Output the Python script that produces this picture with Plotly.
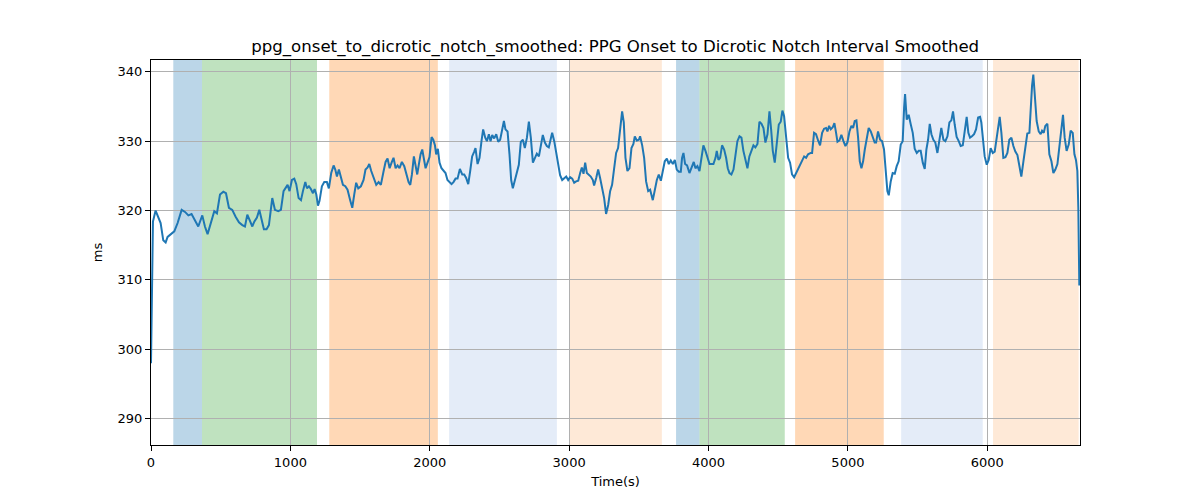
import plotly.graph_objects as go

time_s = [0, 14, 33, 52, 69, 88, 105, 119, 143, 167, 191, 220, 244, 268, 291, 315, 339, 368, 387, 406,
          430, 454, 473, 495, 519, 538, 559, 583, 607, 631, 655, 674, 691, 710, 727, 741, 760, 777, 794, 810,
          829, 846, 870, 889, 913,
          932, 951, 963, 980, 994, 1011, 1028, 1042, 1059, 1076, 1090, 1107, 1119, 1133, 1147, 1162, 1174, 1186,
          1198, 1209, 1226, 1243, 1262, 1276, 1293, 1310, 1322, 1334, 1348, 1362, 1377, 1394, 1410, 1429, 1444,
          1458, 1472, 1487, 1506, 1525, 1539, 1554, 1566, 1580, 1597, 1616, 1633, 1649, 1669, 1683, 1697, 1712,
          1726, 1740, 1755, 1769, 1783, 1800, 1817, 1831, 1848, 1860, 1872,
          1886, 1898, 1910, 1922, 1934, 1946, 1958, 1970, 1984, 1998, 2013, 2025, 2037, 2046, 2058, 2070, 2084,
          2099, 2113, 2127, 2142, 2156, 2170, 2185, 2199, 2216, 2233, 2247, 2261, 2276, 2290, 2304, 2319, 2328,
          2343, 2357, 2371, 2383, 2398, 2410, 2424, 2436, 2448, 2462, 2477, 2491, 2505, 2520, 2532, 2543, 2558,
          2572, 2584, 2596, 2610, 2625, 2639, 2653, 2668, 2682, 2697, 2711, 2725, 2740, 2754, 2768, 2783, 2797,
          2811, 2826, 2840,
          2854, 2864, 2878, 2893, 2907, 2921, 2935, 2950, 2964, 2979, 2993, 3007, 3022, 3036, 3050, 3065, 3079,
          3091, 3103, 3115, 3127, 3141, 3155, 3170, 3179, 3194, 3208, 3222, 3237, 3251, 3265, 3280, 3294, 3308,
          3323, 3337, 3351, 3366, 3380, 3392, 3404, 3418, 3433, 3447, 3461, 3471, 3485, 3500, 3509, 3524, 3538,
          3552, 3567, 3581, 3600, 3615, 3629, 3643, 3658, 3672, 3686, 3701, 3715, 3729, 3744, 3758, 3772, 3787,
          3801, 3810, 3820, 3832, 3846, 3863, 3880, 3894, 3906, 3920, 3935, 3949, 3963, 3978, 3992, 4007, 4021,
          4035, 4050, 4059, 4071, 4083, 4097, 4112, 4126, 4138, 4150, 4164, 4179, 4193, 4207, 4222, 4236, 4250,
          4265, 4279, 4293, 4308, 4322, 4336, 4351, 4365, 4380, 4394, 4408, 4423, 4437, 4449, 4461, 4475, 4490,
          4504, 4518, 4530, 4542, 4556, 4571, 4585, 4599, 4614, 4628, 4643, 4657, 4671, 4686, 4700, 4714, 4733,
          4743, 4757, 4771, 4786, 4800, 4815, 4829, 4843, 4853, 4865, 4877, 4891, 4903, 4915, 4925, 4939, 4953,
          4968, 4982, 4996, 5011, 5025, 5037, 5049, 5061, 5073, 5085, 5097, 5109, 5121, 5135, 5149, 5164, 5178,
          5192, 5202, 5216, 5231, 5245, 5259, 5271, 5283, 5293, 5307, 5321, 5336, 5350, 5364, 5379, 5393, 5403,
          5410, 5422, 5436, 5451, 5465, 5479, 5494, 5508, 5522, 5537, 5551, 5563, 5575, 5587, 5599, 5613, 5627,
          5642, 5656, 5670, 5685,
          5699, 5714, 5728, 5742, 5754, 5766, 5780, 5795, 5809, 5824, 5838, 5852, 5864, 5876, 5890, 5905, 5919,
          5934, 5948, 5957, 5967, 5981, 5996, 6010, 6024, 6039, 6053, 6067, 6079, 6089, 6101, 6115, 6130, 6144,
          6158, 6173, 6187, 6201, 6216, 6230, 6244, 6259, 6273, 6287, 6302, 6311, 6321, 6330, 6340, 6354, 6369,
          6383, 6393, 6405, 6416, 6431, 6445, 6460, 6474, 6488, 6503, 6517, 6531, 6543, 6555, 6569, 6584, 6598,
          6613, 6625, 6636, 6646, 6653, 6660]

interval_ms = [298.0, 318.4, 320.0, 319.1, 318.2, 315.7, 315.4, 316.2, 316.6, 317.0, 318.2, 320.1, 319.8, 319.3,
               319.5, 318.6, 317.7, 319.3, 317.7, 316.6, 318.4, 319.9, 319.6, 322.3, 322.7, 322.5, 320.4, 320.1,
               319.1, 318.3, 317.9, 317.7, 319.4, 318.4, 317.7, 318.4, 319.0, 320.1, 318.6, 317.3, 317.3, 317.9,
               321.8, 320.1, 319.9,
               320.1, 322.8, 323.2, 323.7, 322.8, 324.4, 324.6, 323.8, 321.8, 321.5, 322.8, 324.1, 323.2, 323.5,
               323.1, 322.5, 323.1, 322.3, 320.7, 321.4, 323.5, 324.1, 324.1, 323.2, 325.4, 326.5, 325.9, 324.9,
               325.9, 324.9, 323.7, 323.5, 323.0, 321.5, 320.4, 322.3, 324.0, 323.2, 323.5, 324.4, 325.9, 326.2,
               326.7, 325.7, 324.7, 323.7, 324.1, 323.7, 325.7, 327.0, 327.5, 326.1, 326.9, 327.6, 326.1, 326.5,
               326.1, 327.0, 326.4, 325.4, 324.1, 323.7, 325.2,
               327.8, 326.6, 325.2, 326.7, 328.1, 328.8, 327.3, 326.1, 326.9, 327.7, 330.6, 330.2, 329.4, 328.1,
               328.9, 326.9, 326.1, 325.7, 325.4, 324.4, 324.1, 323.8, 324.1, 324.6, 324.6, 326.0, 325.2, 325.2,
               324.7, 323.8, 325.7, 327.8, 328.5, 329.0, 326.7, 327.6, 330.0, 331.7, 330.5, 330.0, 331.0, 330.0,
               330.9, 330.4, 331.0, 329.9, 330.2, 331.7, 332.9, 331.7, 331.4, 328.1, 324.4, 323.2, 324.4, 325.7,
               326.6, 329.9, 330.2, 329.0, 330.5, 332.8, 330.5, 326.9, 327.6, 328.2, 327.8, 329.5, 330.9, 329.8,
               329.3,
               329.1, 330.2, 331.2, 330.0, 328.3, 326.4, 325.1, 324.4, 324.6, 324.9, 324.4, 324.8, 324.6, 324.0,
               324.2, 324.3, 325.4, 326.2, 325.3, 326.9, 325.4, 325.2, 324.9, 324.4, 323.6, 324.7, 325.9, 324.7,
               323.2, 321.8, 319.5, 320.8, 322.8, 323.7, 326.1, 328.3, 329.0, 331.4, 334.3, 332.7, 327.6, 325.7,
               326.1, 329.0, 329.6, 330.7, 330.1, 330.2, 330.7, 329.4, 327.6, 324.2, 322.8, 323.0, 321.5, 323.0,
               324.4, 325.2, 324.3, 325.7, 327.1, 327.5, 326.7, 327.2, 326.7, 327.3, 325.9, 325.6,
               325.6, 327.6, 328.3, 326.7, 326.5, 325.4, 326.2, 327.0, 326.1, 326.4, 325.7, 327.8, 329.4, 328.6,
               327.8, 326.7, 326.7, 326.7, 327.6, 328.6, 327.3, 327.6, 329.4, 328.8, 327.6, 326.1, 325.4, 325.2,
               325.9, 328.3, 330.0, 330.7, 330.5, 328.6, 327.1, 326.1, 327.8, 328.6, 329.4, 329.1, 329.6, 332.8,
               332.5, 331.9, 329.8, 331.0, 334.3, 331.7, 328.6, 326.9, 330.0, 332.4, 332.8, 334.4, 333.6, 330.2,
               327.6, 326.9, 325.2, 324.8, 325.4, 326.1, 326.7, 327.1, 327.8, 327.6, 328.1, 328.3,
               328.3, 331.2, 331.0, 330.1, 329.4, 331.2, 331.8, 331.9, 331.4, 332.2, 331.7, 332.0, 332.6, 331.2,
               329.9, 330.1, 330.9, 330.0, 329.3, 329.8, 331.4, 332.2, 331.9, 332.9, 333.0, 330.5, 327.1, 326.1,
               327.1, 328.8, 330.7, 331.9, 331.4, 330.5, 329.8, 329.8, 331.4, 330.2, 330.0, 328.8, 325.4, 322.8,
               322.2, 324.2, 325.4, 325.3, 326.4, 327.1, 329.5, 330.0, 334.8, 336.8, 333.1, 333.8, 332.4, 331.2,
               328.9, 328.3, 328.6, 328.6, 326.9, 326.0, 328.8, 330.2, 332.5, 331.0, 330.2, 329.8, 328.3, 330.5,
               331.9, 330.2,
               330.0, 330.7, 332.7, 333.0, 334.3, 332.4, 330.6, 330.0, 329.3, 329.4, 331.4, 333.5, 331.2, 330.5,
               330.7, 331.0, 331.7, 333.4, 333.5, 332.7, 330.7, 327.8, 326.6, 327.3, 329.0, 328.3, 328.5, 330.7,
               332.2, 333.5, 331.2, 327.6, 327.7, 328.3, 330.2, 330.5, 329.3, 328.5, 328.0, 326.6, 324.9, 327.1,
               329.0, 331.1, 331.2, 334.8, 338.0, 339.6, 336.8, 332.9, 331.4, 331.0, 331.5, 331.2, 332.2, 332.5,
               328.1, 327.1, 325.4, 325.9, 326.7, 329.5, 331.9, 333.8, 330.5, 328.6, 329.5, 331.5, 331.2, 328.1,
               327.3, 325.7, 320.4, 309.2]

band_start = [160, 366, 1279, 2139, 3002, 3767, 3935, 4621, 5382, 6041]
band_end = [366, 1191, 2058, 2912, 3665, 3935, 4547, 5257, 5967, 6655]
band_color = ["rgba(31,119,180,0.3)", "rgba(44,160,44,0.3)", "rgba(255,127,14,0.3)",
              "rgba(120,160,220,0.2)", "rgba(253,175,110,0.28)",
              "rgba(31,119,180,0.3)", "rgba(44,160,44,0.3)", "rgba(255,127,14,0.3)",
              "rgba(120,160,220,0.2)", "rgba(253,175,110,0.28)"]

x_ticks = [0, 1000, 2000, 3000, 4000, 5000, 6000]
y_ticks = [290, 300, 310, 320, 330, 340]

fig = go.Figure()
fig.add_trace(go.Scatter(x=time_s, y=interval_ms, mode="lines",
                         line=dict(color="#1f77b4", width=2), showlegend=False))

for s, e, c in zip(band_start, band_end, band_color):
    fig.add_vrect(x0=s, x1=e, fillcolor=c, line_width=0, layer="below")

axis_common = dict(showline=True, linecolor="black", linewidth=1, mirror=True,
                   showgrid=True, gridcolor="#b0b0b0", gridwidth=1,
                   ticks="outside", ticklen=5, tickcolor="black", zeroline=False,
                   tickfont=dict(family="DejaVu Sans", size=13, color="black"))

fig.update_layout(
    width=1200, height=500,
    margin=dict(l=143, r=128, t=52, b=63),
    paper_bgcolor="white", plot_bgcolor="white",
    title=dict(text="ppg_onset_to_dicrotic_notch_smoothed: PPG Onset to Dicrotic Notch Interval Smoothed",
               x=0.506, xanchor="center", y=0.924, yanchor="middle",
               font=dict(family="DejaVu Sans", size=16.6, color="black")),
    xaxis=dict(range=[0, 6665], tickvals=x_ticks,
               title=dict(text="Time(s)", font=dict(family="DejaVu Sans", size=13, color="black"), standoff=8),
               **axis_common),
    yaxis=dict(range=[286.2, 341.7], tickvals=y_ticks,
               title=dict(text="ms", font=dict(family="DejaVu Sans", size=13, color="black"), standoff=12),
               **axis_common),
)

fig.write_html("out.html")
